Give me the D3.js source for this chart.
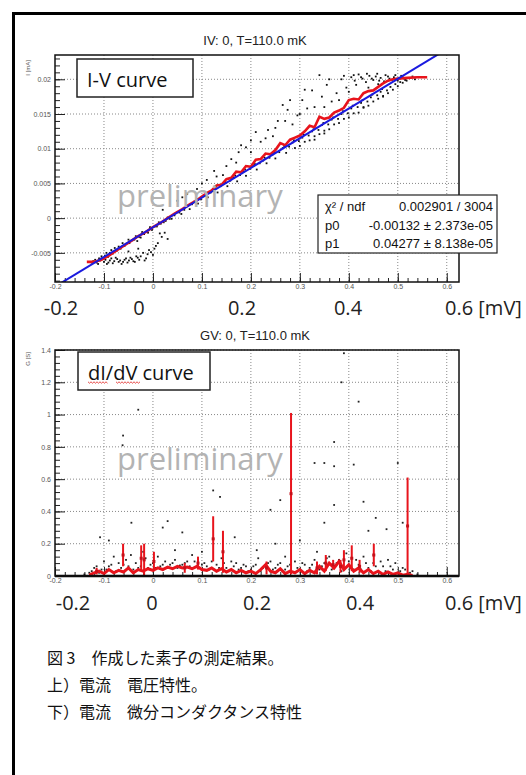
<!DOCTYPE html>
<html>
<head>
<meta charset="utf-8">
<script src="https://cdn.jsdelivr.net/npm/d3@7"></script>
<style>
	body { margin: 0; background: #fff; }
	svg text { font-family: "Liberation Sans", Arial, sans-serif; }
	.root-text { font-family: "Liberation Sans Narrow", "Liberation Sans", Arial, sans-serif; }
	.big { font-family: "Open Sans", "Noto Sans", sans-serif; }
	.caption { font-family: "Noto Sans CJK JP", sans-serif; }
</style>
</head>
<body>
<div id="chartDiv"></div>
<script>
;(function() {

	var width = 526;
	var height = 775;

	// shared x axis (mV)
	var xTicks = [-0.2, -0.1, 0, 0.1, 0.2, 0.3, 0.4, 0.5, 0.6];
	var bigXLabels = ["-0.2", "0", "0.2", "0.4", "0.6 [mV]"];

	// I-V panel
	var ivTitle = "IV: 0, T=110.0 mK";
	var ivYTicks = [-0.005, 0, 0.005, 0.01, 0.015, 0.02];
	var ivFit = { p0: -0.00132, p1: 0.04277 };
	var ivStats = [
		["\u03C7\u00B2 / ndf", "0.002901 / 3004"],
		["p0", "-0.00132 \u00B1 2.373e-05"],
		["p1", "0.04277 \u00B1 8.138e-05"]
	];
	var ivRedV = [-0.135, -0.12, -0.105, -0.09, -0.075, -0.06, -0.045, -0.03, -0.015, 0, 0.015, 0.03, 0.045, 0.06, 0.075, 0.09, 0.1, 0.11, 0.12, 0.13, 0.14, 0.15, 0.16, 0.17, 0.18, 0.19, 0.2, 0.21, 0.22, 0.23, 0.24, 0.25, 0.26, 0.27, 0.28, 0.29, 0.3, 0.31, 0.32, 0.33, 0.34, 0.35, 0.36, 0.37, 0.38, 0.39, 0.4, 0.41, 0.42, 0.43, 0.44, 0.45, 0.46, 0.47, 0.48, 0.49, 0.5, 0.52, 0.54, 0.56];
	var ivRedI = [-0.0063, -0.0063, -0.0060, -0.0054, -0.0047, -0.0040, -0.0033, -0.0026, -0.0020, -0.0013, -0.0007, 0.0000, 0.0007, 0.0013, 0.0020, 0.0026, 0.0031, 0.0036, 0.0040, 0.0047, 0.0048, 0.0056, 0.0058, 0.0067, 0.0066, 0.0075, 0.0074, 0.0084, 0.0085, 0.0093, 0.0092, 0.0098, 0.0108, 0.0105, 0.0113, 0.0116, 0.0119, 0.0125, 0.0133, 0.0131, 0.0146, 0.0143, 0.0145, 0.0152, 0.0155, 0.0159, 0.0170, 0.0172, 0.0171, 0.0180, 0.0183, 0.0184, 0.0189, 0.0194, 0.0198, 0.0200, 0.0201, 0.0202, 0.0203, 0.0203];
	var ivDots = [
		// band along the fit
		[-0.095,-0.0050],[-0.085,-0.0046],[-0.078,-0.0043],[-0.07,-0.0041],[-0.062,-0.0036],[-0.055,-0.0037],[-0.05,-0.0031],[-0.042,-0.0032],[-0.035,-0.0026],[-0.028,-0.0027],[-0.022,-0.0020],[-0.012,-0.0019],[-0.006,-0.0013],[0.004,-0.0012],[0.012,-0.0006],[0.022,-0.0006],[0.03,0.0001],[0.038,-0.0001],[0.05,0.0009],[0.058,0.0006],[0.068,0.0016],[0.075,0.0013],[0.085,0.0024],[0.092,0.0021],[0.105,0.0032],[0.112,0.0030],[0.125,0.0041],[0.132,0.0037],[0.145,0.0050],[0.152,0.0046],[0.165,0.0058],[0.172,0.0053],[0.185,0.0067],[0.19,0.0061],[0.205,0.0075],[0.212,0.0070],[0.225,0.0083],[0.232,0.0079],[0.245,0.0092],[0.25,0.0086],[0.265,0.0101],[0.272,0.0094],[0.285,0.0109],[0.29,0.0101],[0.305,0.0116],[0.31,0.0110],[0.325,0.0125],[0.33,0.0118],[0.345,0.0134],[0.35,0.0126],[0.365,0.0142],[0.37,0.0135],[0.385,0.0150],[0.39,0.0143],[0.405,0.0158],[0.41,0.0151],[0.425,0.0166],[0.43,0.0159],[0.445,0.0174],[0.45,0.0168],[0.465,0.0182],[0.47,0.0176],[0.485,0.0189],[0.49,0.0185],
		[-0.11,-0.0058],[-0.105,-0.0055],[-0.098,-0.0054],[-0.092,-0.0056],[-0.088,-0.0050],[-0.082,-0.0051],[-0.074,-0.0047],[-0.066,-0.0044],[-0.058,-0.0040],[-0.048,-0.0036],[-0.038,-0.0031],[-0.032,-0.0033],[-0.025,-0.0028],[-0.018,-0.0023],[-0.01,-0.0021],[-0.002,-0.0017],[0.008,-0.0012],[0.016,-0.0008],[0.026,-0.0004],[0.034,-0.0001],[0.044,0.0004],[0.054,0.0008],[0.064,0.0012],[0.072,0.0018],[0.08,0.0020],[0.088,0.0026],[0.098,0.0027],[0.108,0.0034],[0.118,0.0037],[0.128,0.0043],[0.138,0.0046],[0.148,0.0052],[0.158,0.0054],[0.168,0.0061],[0.178,0.0062],[0.188,0.0070],[0.198,0.0071],[0.208,0.0078],[0.218,0.0079],[0.228,0.0087],[0.238,0.0087],[0.248,0.0095],[0.258,0.0095],[0.268,0.0104],[0.278,0.0103],[0.288,0.0112],[0.298,0.0111],[0.308,0.0120],[0.318,0.0119],[0.328,0.0128],[0.338,0.0127],[0.348,0.0137],[0.358,0.0135],[0.368,0.0145],[0.378,0.0143],[0.388,0.0154],[0.398,0.0151],[0.408,0.0162],[0.418,0.0160],[0.428,0.0170],[0.438,0.0168],[0.448,0.0178],[0.458,0.0177],[0.468,0.0186],[0.478,0.0184],[0.495,0.0193],[0.505,0.0196],[0.515,0.0199],
		// lower left cluster
		[-0.125,-0.0064],[-0.118,-0.0060],[-0.112,-0.0066],[-0.105,-0.0058],[-0.1,-0.0063],[-0.094,-0.0066],[-0.088,-0.0061],[-0.082,-0.0065],[-0.076,-0.0057],[-0.07,-0.0063],[-0.064,-0.0066],[-0.058,-0.0060],[-0.052,-0.0064],[-0.046,-0.0057],[-0.04,-0.0062],[-0.034,-0.0055],[-0.028,-0.0060],[-0.02,-0.0050],[-0.014,-0.0058],[-0.008,-0.0046],[0.0,-0.0053],[0.006,-0.0040],[0.014,-0.0022],[0.024,-0.0021],[0.03,-0.0030],[-0.03,-0.0044],[-0.05,-0.0048],
		[-0.122,-0.0062],[-0.115,-0.0064],[-0.108,-0.0061],[-0.097,-0.0060],[-0.091,-0.0064],[-0.085,-0.0058],[-0.079,-0.0062],[-0.073,-0.0059],[-0.067,-0.0061],[-0.061,-0.0063],[-0.055,-0.0058],[-0.049,-0.0061],[-0.043,-0.0059],[-0.037,-0.0063],[-0.031,-0.0057],[-0.025,-0.0055],[-0.017,-0.0061],[-0.011,-0.0052],[-0.004,-0.0049],[0.003,-0.0044],[0.01,-0.0036],[0.018,-0.0027],
		// scatter above the fit
		[0.02,0.0012],[0.05,0.0025],[0.07,0.0035],[0.09,0.0042],[0.11,0.0055],[0.125,0.0068],[0.143,0.0062],[0.16,0.0085],[0.175,0.0095],[0.19,0.0102],[0.2,0.0112],[0.21,0.0124],[0.22,0.0110],[0.235,0.0127],[0.245,0.0118],[0.255,0.0140],[0.265,0.0163],[0.275,0.0156],[0.285,0.0135],[0.295,0.0148],[0.305,0.0170],[0.315,0.0158],[0.325,0.0184],[0.34,0.0206],[0.345,0.0175],[0.355,0.0192],[0.365,0.0168],[0.375,0.0180],[0.385,0.0200],[0.395,0.0188],
		[0.06,0.0030],[0.1,0.0050],[0.13,0.0060],[0.15,0.0075],[0.17,0.0080],[0.18,0.0105],[0.2,0.0095],[0.23,0.0115],[0.25,0.0130],[0.27,0.0140],[0.28,0.0170],[0.3,0.0150],[0.31,0.0185],[0.33,0.0160],[0.35,0.0160],[0.36,0.0200],[0.38,0.0170],[0.39,0.0205],[0.4,0.0182],
		// saturated top cluster
		[0.405,0.0203],[0.412,0.0198],[0.42,0.0207],[0.428,0.0201],[0.435,0.0196],[0.442,0.0205],[0.45,0.0199],[0.458,0.0208],[0.465,0.0202],[0.472,0.0197],[0.48,0.0204],[0.488,0.0199],[0.495,0.0206],[0.502,0.0201],[0.51,0.0203],[0.518,0.0198],[0.525,0.0202],[0.415,0.0192],[0.44,0.0188],[0.46,0.0193],
		[0.41,0.0206],[0.425,0.0203],[0.437,0.0208],[0.447,0.0201],[0.455,0.0204],[0.462,0.0198],[0.475,0.0206],[0.483,0.0201],[0.492,0.0203],[0.5,0.0198],[0.507,0.0205],[0.515,0.0201],[0.53,0.0204],[0.535,0.0200],
		// band just below the fit
		[0.3,0.0104],[0.32,0.0112],[0.34,0.0121],[0.36,0.0128],[0.38,0.0137],[0.4,0.0145],[0.42,0.0152],[0.44,0.0162],[0.46,0.0172],[0.48,0.0180],[0.5,0.0190],[0.51,0.0195],[0.33,0.0113],[0.35,0.0122],[0.43,0.0160],[0.47,0.0175]
	];

	// G-V panel
	var gvTitle = "GV: 0, T=110.0 mK";
	var gvYTicks = [0, 0.2, 0.4, 0.6, 0.8, 1, 1.2, 1.4];
	var gvRedV = [-0.13, -0.12, -0.11, -0.1, -0.09, -0.08, -0.07, -0.06, -0.05, -0.04, -0.03, -0.02, -0.01, 0, 0.01, 0.02, 0.03, 0.04, 0.05, 0.06, 0.07, 0.08, 0.09, 0.1, 0.11, 0.12, 0.13, 0.14, 0.15, 0.16, 0.17, 0.18, 0.19, 0.2, 0.21, 0.22, 0.23, 0.24, 0.25, 0.26, 0.27, 0.28, 0.29, 0.3, 0.31, 0.32, 0.33, 0.34, 0.35, 0.36, 0.37, 0.38, 0.39, 0.4, 0.41, 0.42, 0.43, 0.44, 0.45, 0.46, 0.47, 0.48, 0.49, 0.5, 0.51, 0.52, 0.53];
	var gvRedG = [0.005, 0.02, 0.03, 0.015, 0.04, 0.02, 0.035, 0.025, 0.05, 0.02, 0.04, 0.03, 0.045, 0.035, 0.05, 0.04, 0.055, 0.045, 0.06, 0.05, 0.055, 0.045, 0.06, 0.04, 0.035, 0.05, 0.03, 0.045, 0.025, 0.04, 0.02, 0.035, 0.02, 0.03, 0.015, 0.04, 0.07, 0.03, 0.02, 0.045, 0.015, 0.03, 0.02, 0.04, 0.015, 0.035, 0.02, 0.06, 0.03, 0.08, 0.05, 0.09, 0.04, 0.07, 0.03, 0.05, 0.02, 0.04, 0.015, 0.03, 0.01, 0.025, 0.01, 0.02, 0.005, 0.01, 0.003];
	var gvSpikeV = [-0.115, -0.061, -0.024, -0.018, 0.002, 0.065, 0.092, 0.123, 0.143, 0.232, 0.282, 0.335, 0.353, 0.368, 0.383, 0.39, 0.406, 0.422, 0.451, 0.52];
	var gvSpikeMid = [0.03, 0.13, 0.11, 0.10, 0.09, 0.05, 0.08, 0.23, 0.15, 0.05, 0.51, 0.05, 0.08, 0.07, 0.06, 0.10, 0.11, 0.06, 0.13, 0.31];
	var gvSpikeErr = [0.02, 0.07, 0.08, 0.10, 0.06, 0.03, 0.04, 0.14, 0.13, 0.04, 0.50, 0.04, 0.05, 0.03, 0.04, 0.06, 0.08, 0.04, 0.07, 0.30];
	var gvDots = [
		[-0.03,1.03],[-0.061,0.87],[-0.062,0.81],[0.39,1.38],[0.42,1.08],[0.37,0.83],[0.385,1.2],[0.33,0.70],[0.35,0.70],[0.37,0.68],[0.41,0.69],[0.5,0.70],[0.123,0.53],[0.137,0.49],[0.26,0.47],[0.43,0.46],[0.37,0.44],[0.24,0.41],[0.35,0.33],[0.03,0.34],[-0.044,0.33],[-0.108,0.24],[0.477,0.29],[0.44,0.28],[0.51,0.33],[0.167,0.24],[0.212,0.16],[0.02,0.30],[0.25,0.2],[0.06,0.27],[-0.09,0.22],[0.1,0.15],[0.3,0.22],[0.455,0.36],
		[-0.125,0.03],[-0.115,0.06],[-0.11,0.02],[-0.1,0.09],[-0.095,0.04],[-0.085,0.07],[-0.08,0.12],[-0.075,0.03],[-0.07,0.08],[-0.065,0.05],[-0.055,0.1],[-0.05,0.06],[-0.045,0.13],[-0.04,0.04],[-0.035,0.08],[-0.025,0.06],[-0.015,0.11],[-0.01,0.05],[0.0,0.08],[0.01,0.12],[0.015,0.06],[0.025,0.09],[0.035,0.07],[0.045,0.1],[0.055,0.065],[0.065,0.08],[0.075,0.06],[0.085,0.09],[0.095,0.05],[0.105,0.08],[0.115,0.04],[0.13,0.07],[0.15,0.05],[0.16,0.09],[0.175,0.04],[0.185,0.07],[0.195,0.03],[0.205,0.06],[0.215,0.11],[0.225,0.05],[0.235,0.08],[0.245,0.04],[0.255,0.07],[0.265,0.03],[0.275,0.06],[0.29,0.09],[0.3,0.04],[0.31,0.07],[0.32,0.05],[0.33,0.1],[0.34,0.04],[0.35,0.08],[0.36,0.12],[0.37,0.06],[0.38,0.1],[0.39,0.05],[0.4,0.09],[0.41,0.04],[0.42,0.07],[0.43,0.12],[0.44,0.05],[0.45,0.08],[0.46,0.03],[0.47,0.06],[0.48,0.1],[0.49,0.04],[0.5,0.02],[0.51,0.05],[0.52,0.01],[0.14,0.11],[0.08,0.13],[-0.02,0.15],[0.27,0.12],[0.045,0.16],[0.395,0.14],[0.335,0.15],
		[-0.12,0.05],[-0.105,0.04],[-0.09,0.06],[-0.06,0.07],[-0.03,0.05],[-0.005,0.07],[0.005,0.05],[0.02,0.07],[0.03,0.05],[0.04,0.08],[0.05,0.05],[0.06,0.07],[0.07,0.09],[0.09,0.06],[0.1,0.07],[0.11,0.06],[0.12,0.09],[0.135,0.05],[0.145,0.08],[0.155,0.03],[0.165,0.06],[0.17,0.08],[0.18,0.05],[0.19,0.06],[0.2,0.04],[0.21,0.07],[0.22,0.03],[0.23,0.06],[0.24,0.09],[0.25,0.05],[0.26,0.08],[0.27,0.04],[0.28,0.07],[0.295,0.05],[0.305,0.08],[0.315,0.03],[0.325,0.07],[0.345,0.06],[0.355,0.11],[0.365,0.04],[0.375,0.08],[0.385,0.03],[0.405,0.06],[0.415,0.1],[0.425,0.04],[0.435,0.08],[0.445,0.03],[0.455,0.06],[0.465,0.09],[0.475,0.03],[0.485,0.06],[0.495,0.08],[0.505,0.03],[0.515,0.04],[0.525,0.02],[-0.13,0.02],[-0.14,0.01],[0.53,0.03],[0.54,0.01]
	];

	var captionLines = [
		"図 3\u3000作成した素子の測定結果。",
		"上）電流\u3000電圧特性。",
		"下）電流\u3000微分コンダクタンス特性"
	];

	var svg;

	init();

	function init() {
		svg = d3.select("#chartDiv").append("svg")
			.attr("width", width)
			.attr("height", height);

		svg.append("rect").attr("width", width).attr("height", height).attr("fill", "#fff");

		// outer slide frame
		svg.append("path")
			.attr("d", "M13.5," + height + "V13.5H" + width)
			.attr("fill", "none")
			.attr("stroke", "#000")
			.attr("stroke-width", 3);

		drawIV();
		drawGV();
		drawCaption();
	}

	function makePanel(opts) {
		var p = {};
		p.x = d3.scaleLinear().domain([-0.2, 0.625]).range([55, 459]);
		p.y = d3.scaleLinear().domain(opts.yDomain).range([opts.bottom, opts.top]);
		p.g = svg.append("g");

		p.g.append("clipPath").attr("id", opts.id)
			.append("rect")
			.attr("x", 55).attr("y", opts.top)
			.attr("width", 404).attr("height", opts.bottom - opts.top);

		// title
		p.g.append("text")
			.attr("class", "root-text")
			.attr("x", 255).attr("y", opts.titleY)
			.attr("text-anchor", "middle")
			.style("font-size", "13px")
			.attr("fill", "#222")
			.text(opts.title);

		// dotted grid
		p.g.append("g").selectAll("line").data(xTicks.slice(1)).enter().append("line")
			.attr("x1", function(d) { return p.x(d); })
			.attr("x2", function(d) { return p.x(d); })
			.attr("y1", opts.top).attr("y2", opts.bottom)
			.attr("stroke", "#888").attr("stroke-dasharray", "1,2");
		p.g.append("g").selectAll("line").data(opts.yTicks).enter().append("line")
			.attr("x1", 55).attr("x2", 459)
			.attr("y1", function(d) { return p.y(d); })
			.attr("y2", function(d) { return p.y(d); })
			.attr("stroke", "#888").attr("stroke-dasharray", "1,2");

		// axes with inside ticks (ROOT style)
		var yMajor = d3.axisLeft(p.y).tickValues(opts.yTicks).tickSize(-10).tickPadding(4)
			.tickFormat(function(d) { return String(+d.toFixed(4)); });
		var yMinor = d3.axisLeft(p.y).tickValues(opts.yMinor).tickSize(-5).tickFormat("");
		var xMajor = d3.axisBottom(p.x).tickValues(xTicks).tickSize(-9).tickPadding(2)
			.tickFormat(function(d) { return String(+d.toFixed(1)); });
		var xMinor = d3.axisBottom(p.x).tickValues(d3.range(-0.18, 0.62, 0.02)).tickSize(-4).tickFormat("");

		[yMinor, yMajor].forEach(function(ax) {
			p.g.append("g").attr("transform", "translate(55,0)").call(ax);
		});
		[xMinor, xMajor].forEach(function(ax) {
			p.g.append("g").attr("transform", "translate(0," + opts.bottom + ")").call(ax);
		});
		p.g.selectAll(".domain").remove();
		p.g.selectAll(".tick line").attr("stroke", "#222");
		p.g.selectAll(".tick text")
			.attr("class", "root-text")
			.style("font-size", "7px")
			.attr("fill", "#555");

		// y axis title
		p.g.append("text")
			.attr("class", "root-text")
			.attr("transform", "translate(30," + opts.yTitleY + ") rotate(-90)")
			.attr("text-anchor", "end")
			.style("font-size", "6px")
			.attr("fill", "#555")
			.text(opts.yTitle);

		p.plot = p.g.append("g").attr("clip-path", "url(#" + opts.id + ")");
		p.opts = opts;
		return p;
	}

	function finishPanel(p) {
		p.g.append("rect")
			.attr("x", 55).attr("y", p.opts.top)
			.attr("width", 404).attr("height", p.opts.bottom - p.opts.top)
			.attr("fill", "none").attr("stroke", "#111").attr("stroke-width", 1.5);

		// big overlay axis labels
		var row = p.g.append("g");
		row.selectAll("text").data(bigXLabels).enter().append("text")
			.attr("class", "big")
			.attr("x", function(d, i) { return p.opts.bigX[i]; })
			.attr("y", p.opts.bigY)
			.attr("text-anchor", function(d, i) { return i === bigXLabels.length - 1 ? "start" : "middle"; })
			.style("font-size", "20px")
			.attr("fill", "#222")
			.text(function(d) { return d; });

		// label box
		p.g.append("rect")
			.attr("x", p.opts.box[0]).attr("y", p.opts.box[1])
			.attr("width", p.opts.box[2]).attr("height", p.opts.box[3])
			.attr("fill", "#fff").attr("stroke", "#222").attr("stroke-width", 1.5);
		p.g.append("text")
			.attr("class", "big")
			.attr("x", p.opts.box[0] + 10).attr("y", p.opts.box[1] + 28)
			.style("font-size", "20px")
			.attr("fill", "#111")
			.text(p.opts.label);

		// watermark
		p.g.append("text")
			.attr("class", "big")
			.attr("x", 117).attr("y", p.opts.prelimY)
			.style("font-size", "31px")
			.attr("fill", "#b3b3b3")
			.text("preliminary");
	}

	function drawIV() {
		var p = makePanel({
			id: "clipIV", title: ivTitle, titleY: 45, top: 55, bottom: 282,
			yDomain: [-0.0092, 0.0235], yTicks: ivYTicks,
			yMinor: d3.range(-0.009, 0.0235, 0.001),
			yTitle: "I [mA]", yTitleY: 60,
			bigX: [61, 139, 242, 348, 445], bigY: 315,
			box: [77, 59, 116, 38], label: "I-V curve", prelimY: 207
		});

		p.plot.append("g").selectAll("rect").data(ivDots).enter().append("rect")
			.attr("x", function(d) { return p.x(d[0]) - 0.9; })
			.attr("y", function(d) { return p.y(d[1]) - 0.9; })
			.attr("width", 1.8).attr("height", 1.8)
			.attr("fill", "#111");

		var redLine = d3.line()
			.x(function(d, i) { return p.x(ivRedV[i]); })
			.y(function(d) { return p.y(d); });
		p.plot.append("path").datum(ivRedI)
			.attr("d", redLine)
			.attr("fill", "none").attr("stroke", "#e8141c").attr("stroke-width", 2.6);

		var fitX = [-0.2, 0.625];
		p.plot.append("line")
			.attr("x1", p.x(fitX[0])).attr("y1", p.y(ivFit.p0 + ivFit.p1 * fitX[0]))
			.attr("x2", p.x(fitX[1])).attr("y2", p.y(ivFit.p0 + ivFit.p1 * fitX[1]))
			.attr("stroke", "#1a1adf").attr("stroke-width", 2);

		finishPanel(p);

		// fit statistics box
		var stats = p.g.append("g");
		stats.append("rect")
			.attr("x", 318).attr("y", 195).attr("width", 179).attr("height", 58)
			.attr("fill", "#fff").attr("stroke", "#222").attr("stroke-width", 1.2);
		stats.selectAll(".k").data(ivStats).enter().append("text")
			.attr("class", "root-text")
			.attr("x", 325).attr("y", function(d, i) { return 211 + i * 18.5; })
			.style("font-size", "13px").attr("fill", "#111")
			.text(function(d) { return d[0]; });
		stats.selectAll(".v").data(ivStats).enter().append("text")
			.attr("class", "root-text")
			.attr("x", 493).attr("y", function(d, i) { return 211 + i * 18.5; })
			.attr("text-anchor", "end")
			.style("font-size", "13px").attr("fill", "#111")
			.text(function(d) { return d[1]; });
	}

	function drawGV() {
		var p = makePanel({
			id: "clipGV", title: gvTitle, titleY: 340, top: 350, bottom: 576,
			yDomain: [0, 1.4], yTicks: gvYTicks,
			yMinor: d3.range(0, 1.4, 0.04),
			yTitle: "G [S]", yTitleY: 352,
			bigX: [73, 152, 257, 360, 445], bigY: 610,
			box: [78, 352, 132, 38], label: "dI/dV curve", prelimY: 470
		});

		p.plot.append("g").selectAll("rect").data(gvDots).enter().append("rect")
			.attr("x", function(d) { return p.x(d[0]) - 0.9; })
			.attr("y", function(d) { return p.y(d[1]) - 0.9; })
			.attr("width", 1.8).attr("height", 1.8)
			.attr("fill", "#222");

		var redLine = d3.line()
			.x(function(d, i) { return p.x(gvRedV[i]); })
			.y(function(d) { return p.y(d); });
		p.plot.append("path").datum(gvRedG)
			.attr("d", redLine)
			.attr("fill", "none").attr("stroke", "#e8141c").attr("stroke-width", 3);

		var spikes = p.plot.append("g").selectAll("g").data(gvSpikeV).enter().append("g");
		spikes.append("line")
			.attr("x1", function(d) { return p.x(d); })
			.attr("x2", function(d) { return p.x(d); })
			.attr("y1", function(d, i) { return p.y(Math.max(0, gvSpikeMid[i] - gvSpikeErr[i])); })
			.attr("y2", function(d, i) { return p.y(gvSpikeMid[i] + gvSpikeErr[i]); })
			.attr("stroke", "#e8141c").attr("stroke-width", 2);
		spikes.append("rect")
			.attr("x", function(d) { return p.x(d) - 1.5; })
			.attr("y", function(d, i) { return p.y(gvSpikeMid[i]) - 1.5; })
			.attr("width", 3).attr("height", 3)
			.attr("fill", "#c4101a");

		// thick baseline from dots sitting on zero
		p.g.append("line")
			.attr("x1", 55).attr("x2", 459)
			.attr("y1", 576).attr("y2", 576)
			.attr("stroke", "#000").attr("stroke-width", 2.5);

		finishPanel(p);

		// spell-check squiggles under "dI" and "dV"
		var squiggle = d3.line().curve(d3.curveLinear);
		[[88, 108], [116, 141]].forEach(function(seg) {
			var pts = [];
			for (var x = seg[0], k = 0; x <= seg[1]; x += 1.5, k++) pts.push([x, 382 + (k % 2 ? 1.2 : -0.2)]);
			p.g.append("path").attr("d", squiggle(pts))
				.attr("fill", "none").attr("stroke", "#e0201c").attr("stroke-width", 0.8);
		});
	}

	function drawCaption() {
		svg.append("g").selectAll("text").data(captionLines).enter().append("text")
			.attr("class", "caption")
			.attr("x", 47)
			.attr("y", function(d, i) { return 664 + i * 27; })
			.style("font-size", "16px")
			.attr("fill", "#111")
			.text(function(d) { return d; });
	}

})();
</script>
</body>
</html>
